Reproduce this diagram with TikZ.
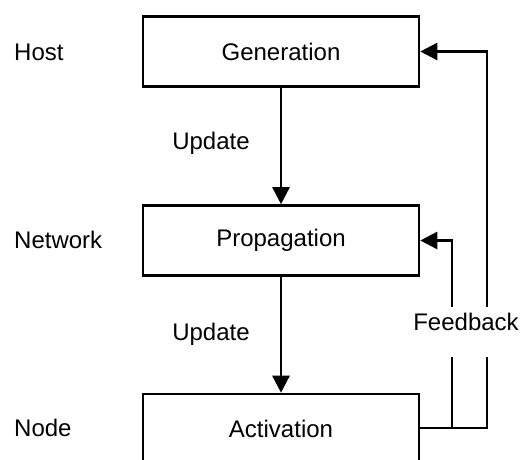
\documentclass[tikz,border=0pt]{standalone}
\usepackage{fontspec}
\setmainfont{Liberation Sans}
\usetikzlibrary{arrows.meta}
\begin{document}
\begin{tikzpicture}[x=1pt,y=-1pt,
  stage/.style={draw, line width=2.6pt, minimum width=276pt, minimum height=70pt,
    inner sep=0pt, font=\fontsize{24}{28}\selectfont},
  lvl/.style={anchor=west, inner sep=0pt, font=\fontsize{24}{28}\selectfont},
  lab/.style={inner sep=0pt, font=\fontsize{24}{28}\selectfont},
  wire/.style={line width=2.6pt, miter limit=10},
  flow/.style={wire, -{Triangle[length=17pt, width=17pt]}}]
\useasboundingbox (0,0) rectangle (529,459);
\clip (0,0) rectangle (529,459);

% three stages
\node[stage] (gen)  at (281,51.5)  {Generation};
\node[stage] (prop) at (281,240.5) {Propagation};
\node[stage] (act)  at (281,429)   {Activation};

% level names
\node[lvl] (host) at (14,52)  {Host};
\node[lvl] (net)  at (14,240) {Network};
\node[lvl] (nd)   at (14,428) {Node};

% downward updates
\draw[flow] (gen.south) -- (prop.north);
\draw[flow] (prop.south) -- (act.north);
\node[lab] (up1) at (211,143) {Update};
\node[lab] (up2) at (211,334) {Update};

% feedback paths
\coordinate (jin)     at (452,428);
\coordinate (jout)    at (487,428);
\coordinate (inlow)   at (452,357);
\coordinate (outlow)  at (487,357);
\coordinate (inhigh)  at (452,307);
\coordinate (outhigh) at (487,307);
\draw[wire] (act.east |- jout) -- (jout) -- (outlow);
\draw[wire] (jin) -- (inlow);
\draw[flow] (outhigh) |- (gen.east);
\draw[flow] (inhigh) |- (prop.east);
\node[lab] (fb) at (466,322) {Feedback};
\end{tikzpicture}
\end{document}
